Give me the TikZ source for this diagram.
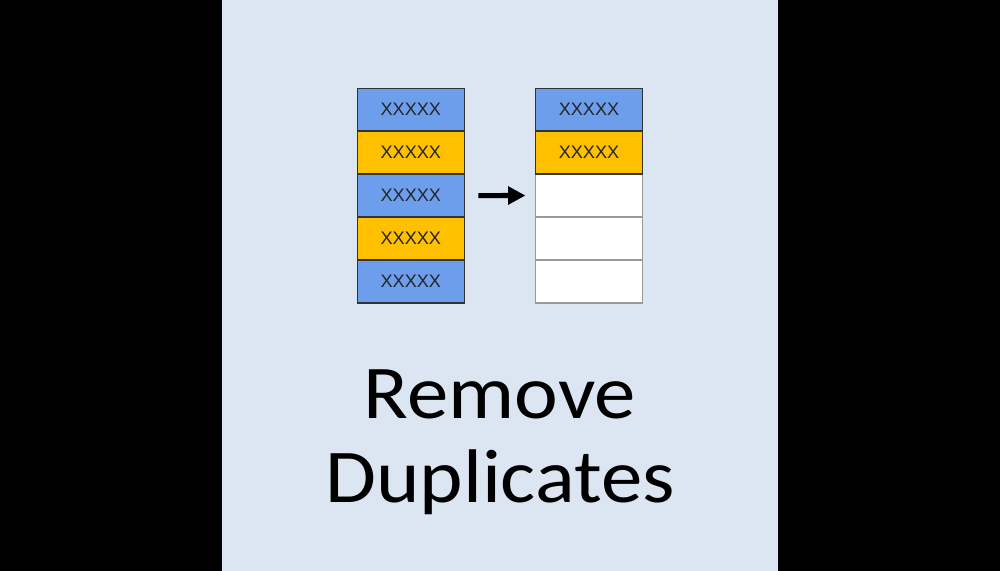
\documentclass[tikz,border=0pt]{standalone}
\usepackage{fontspec}
\setmainfont{Carlito}
\newfontfamily\cellfont{Liberation Sans}
\usetikzlibrary{positioning,arrows.meta}

\definecolor{panelblue}{RGB}{220,230,242}
\definecolor{cellblue}{RGB}{109,158,235}
\definecolor{cellgold}{RGB}{255,192,0}

\tikzset{
  cell/.style={draw=black!80, line width=1.1pt, minimum width=80.25pt,
    minimum height=32.2pt, inner sep=0pt, outer sep=0pt,
    font=\cellfont\fontsize{13.6}{15}\selectfont, text=black!85},
  bluecell/.style={cell, fill=cellblue},
  goldcell/.style={cell, fill=cellgold},
  emptycell/.style={cell, draw=black!40, fill=white},
  title/.style={anchor=base, font=\fontsize{57}{64}\selectfont,
    xscale=1.09, transform shape}
}

\begin{document}
\begin{tikzpicture}[x=0.75pt, y=-0.75pt]
  \fill[black] (0,0) rectangle (1000,571);
  \fill[panelblue] (222,0) rectangle (778,571);
  \useasboundingbox (0,0) rectangle (1000,571);
  % left column: list with duplicates
  \node[bluecell] (l1) at (410.8,109.7) {XXXXX};
  \node[goldcell, below=0pt of l1] (l2) {XXXXX};
  \node[bluecell, below=0pt of l2] (l3) {XXXXX};
  \node[goldcell, below=0pt of l3] (l4) {XXXXX};
  \node[bluecell, below=0pt of l4] (l5) {XXXXX};
  % right column: unique values only
  \node[emptycell] (r3) at (589,195.5) {};
  \node[emptycell, below=0pt of r3] (r4) {};
  \node[emptycell, below=0pt of r4] (r5) {};
  \node[bluecell] (r1) at (589,109.7) {XXXXX};
  \node[goldcell, below=0pt of r1] (r2) {XXXXX};
  \draw[line width=3.8pt, -{Triangle[length=13pt,width=13pt]},
    shorten <=10.5pt, shorten >=7.5pt] (l3.east) -- (r3.west);
  % caption
  \node[title] (cap1) at (500,418) {Remove};
  \node[title] (cap2) at (500,502) {Duplicates};
\end{tikzpicture}
\end{document}
